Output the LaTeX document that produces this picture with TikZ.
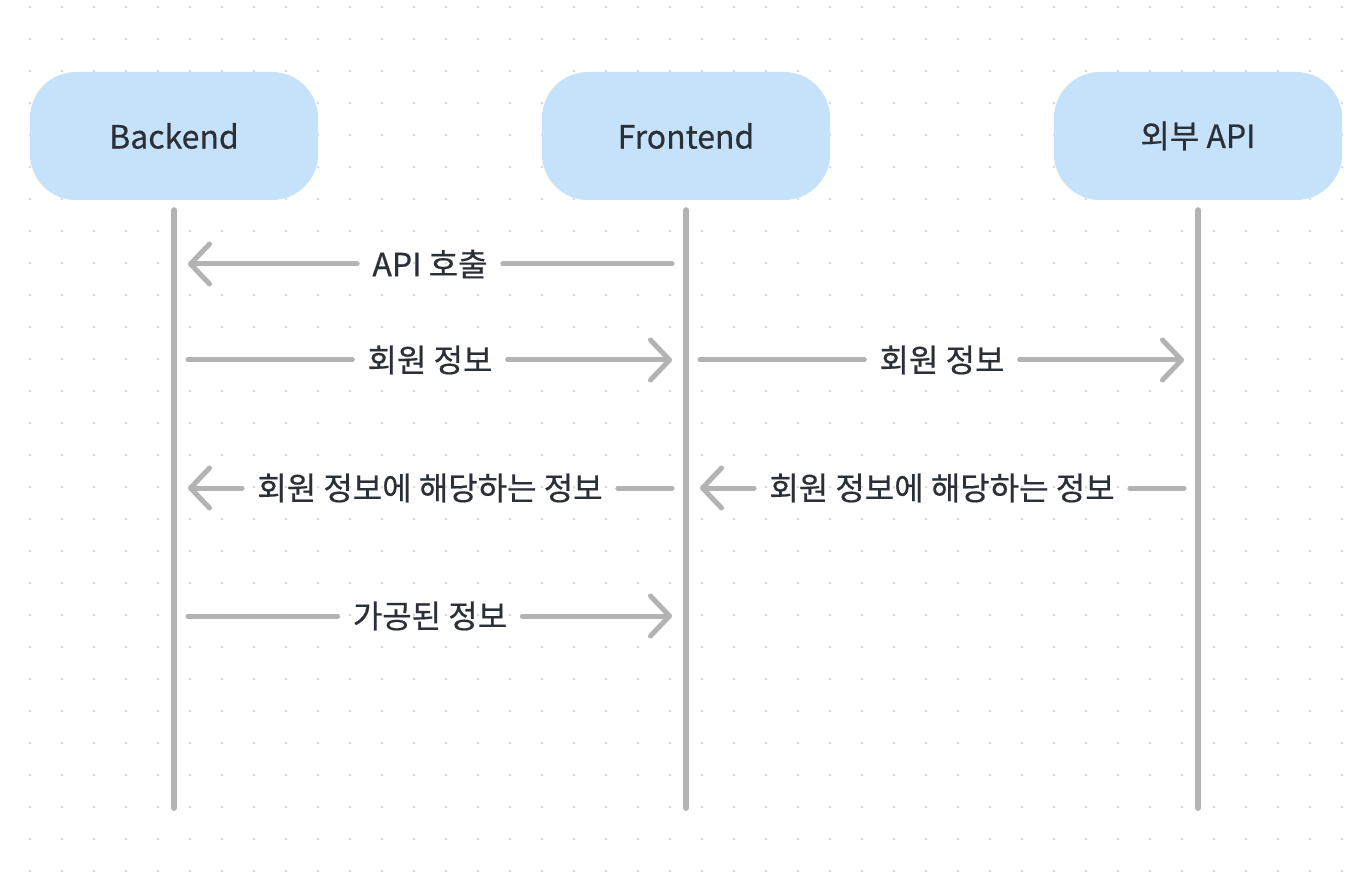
\documentclass[tikz,border=0pt]{standalone}
\usepackage{fontspec}
\setmainfont{Noto Sans CJK KR}[RawFeature={embolden=0.5}]
\usetikzlibrary{arrows.meta}
\definecolor{boxfill}{HTML}{C5E2FA}
\definecolor{txt}{HTML}{2B2F36}
\definecolor{wire}{HTML}{B3B3B3}
\definecolor{dotc}{HTML}{DDDDDD}
\tikzset{
  actor/.style={fill=boxfill, rounded corners=46pt, minimum width=288pt, minimum height=128pt, inner sep=0pt, text=txt, font=\fontsize{32}{38}\selectfont},
  life/.style={draw=wire, line width=6pt, line cap=round},
  msg/.style={draw=wire, line width=5pt, line cap=round},
  tip/.style={-{Straight Barb[length=19pt,width=40pt,round]}},
  lbl/.style={text=txt, inner xsep=15pt, inner ysep=0pt, font=\fontsize{32}{38}\selectfont}
}
\begin{document}
\begin{tikzpicture}[x=1pt,y=-1pt]
\useasboundingbox (0,0) rectangle (1366,885);
\fill[white] (0,0) rectangle (1366,885);
\foreach \i in {0,...,43} {
  \foreach \j in {0,...,27} {
    \fill[dotc] ({-2+32*\i},{7+32*\j}) circle (1.6pt);
  }
}
% actors
\node[actor] (be) at (174,136) {Backend};
\node[actor] (fe) at (686,136) {Frontend};
\node[actor] (ex) at (1198,136) {외부 API};
% lifeline ends
\coordinate (beb) at (174,808);
\coordinate (feb) at (686,808);
\coordinate (exb) at (1198,808);
\draw[life] ([yshift=-10pt]be.south) -- (beb);
\draw[life] ([yshift=-10pt]fe.south) -- (feb);
\draw[life] ([yshift=-10pt]ex.south) -- (exb);
% message endpoints
\coordinate (b1) at (188,264); \coordinate (f1) at (672,264);
\coordinate (b2) at (188,360); \coordinate (f2) at (672,360);
\coordinate (f2r) at (700,360); \coordinate (e2) at (1184,360);
\coordinate (b3) at (188,488); \coordinate (f3) at (672,488);
\coordinate (f3r) at (700,488); \coordinate (e3) at (1184,488);
\coordinate (b4) at (188,616); \coordinate (f4) at (672,616);
% labels
\node[lbl] (m1) at (430,264) {API 호출};
\node[lbl] (m2) at (430,360) {회원 정보};
\node[lbl] (m3) at (942,360) {회원 정보};
\node[lbl] (m4) at (430,488) {회원 정보에 해당하는 정보};
\node[lbl] (m5) at (942,488) {회원 정보에 해당하는 정보};
\node[lbl] (m6) at (430,616) {가공된 정보};
% messages
\draw[msg] (f1) -- (m1.east);
\draw[msg,tip] (m1.west) -- (b1);
\draw[msg] (b2) -- (m2.west);
\draw[msg,tip] (m2.east) -- (f2);
\draw[msg] (f2r) -- (m3.west);
\draw[msg,tip] (m3.east) -- (e2);
\draw[msg] (f3) -- (m4.east);
\draw[msg,tip] (m4.west) -- (b3);
\draw[msg] (e3) -- (m5.east);
\draw[msg,tip] (m5.west) -- (f3r);
\draw[msg] (b4) -- (m6.west);
\draw[msg,tip] (m6.east) -- (f4);
\end{tikzpicture}
\end{document}
